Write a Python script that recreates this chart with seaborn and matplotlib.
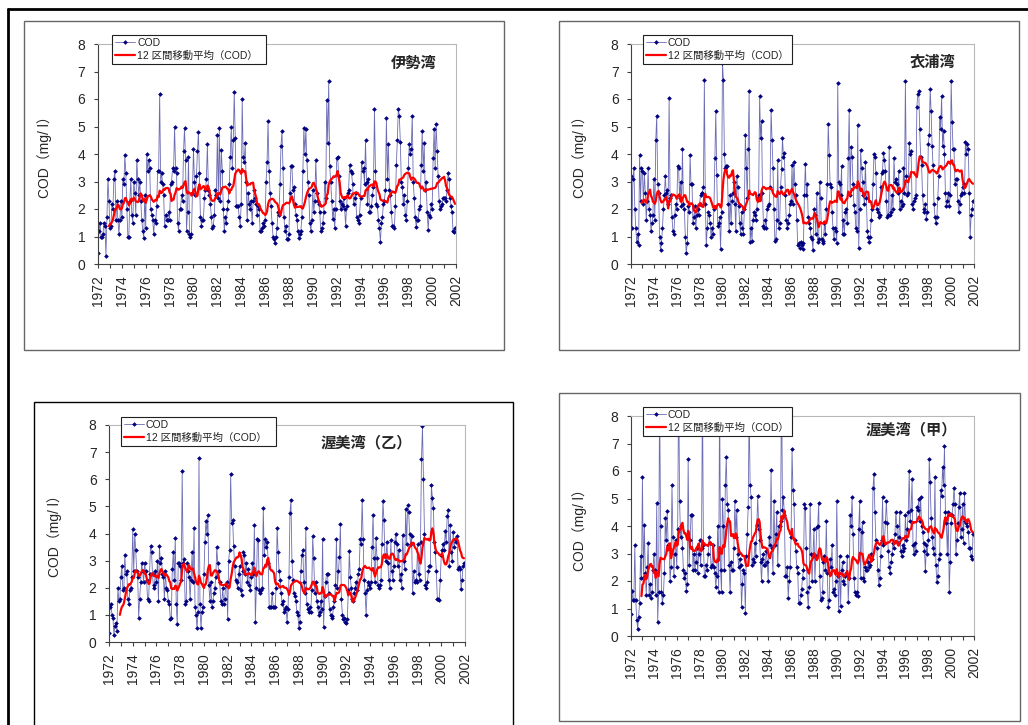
import numpy as np
import pandas as pd
import matplotlib
matplotlib.use("Agg")
import matplotlib.pyplot as plt
from matplotlib.lines import Line2D
from matplotlib.patches import Rectangle
import seaborn as sns

W, H = 1028, 725

# monthly COD (mg/l), Jan 1972 - Dec 2001, one row per year
ise = [
    0.4, 1.2, 1.5, 1.0, 1.0, 1.1, 1.5, 1.4, 0.3, 1.7, 3.1, 2.3,
    1.3, 1.4, 2.2, 2.0, 3.1, 3.4, 1.6, 2.3, 1.6, 1.1, 1.6, 2.3,
    1.7, 3.1, 2.9, 3.95, 3.3, 2.0, 1.0, 1.0, 2.3, 3.1, 1.8, 1.5,
    3.0, 2.6, 1.8, 3.8, 3.1, 2.5, 3.0, 2.3, 1.6, 1.2, 0.95, 2.5,
    1.3, 4.0, 3.4, 3.8, 3.5, 2.0, 1.8, 1.6, 1.1, 1.6, 1.5, 2.1,
    3.4, 3.4, 6.2, 3.0, 3.3, 2.9, 2.5, 1.4, 1.8, 1.6, 1.6, 1.9,
    1.6, 2.9, 3.0, 3.5, 3.4, 5.0, 3.5, 3.3, 1.5, 1.2, 2.0, 2.0,
    2.5, 2.3, 4.1, 4.95, 3.8, 1.2, 1.9, 3.9, 1.1, 1.0, 1.1, 2.6,
    4.2, 3.0, 2.5, 3.2, 4.1, 4.8, 3.3, 1.7, 1.4, 1.6, 1.6, 2.4,
    2.7, 3.1, 4.35, 2.7, 2.5, 2.2, 1.7, 1.3, 1.4, 1.8, 2.7, 2.5,
    4.7, 2.4, 4.95, 2.3, 4.15, 3.4, 2.0, 1.2, 1.7, 1.5, 2.0, 2.3,
    2.9, 3.9, 5.0, 3.5, 4.5, 6.25, 4.6, 2.1, 2.1, 2.1, 1.7, 1.4,
    2.2, 6.0, 3.9, 3.7, 4.4, 3.0, 1.6, 2.6, 2.2, 2.0, 2.3, 1.5,
    2.3, 2.7, 2.4, 2.2, 1.8, 2.1, 2.0, 1.2, 1.2, 1.3, 1.5, 1.4,
    1.6, 3.0, 3.7, 5.2, 3.4, 2.6, 2.1, 1.5, 1.0, 0.9, 0.75, 1.0,
    1.3, 1.9, 1.8, 2.9, 4.3, 4.85, 3.5, 1.7, 1.2, 1.4, 0.9, 0.9,
    1.1, 2.6, 3.55, 3.55, 2.7, 2.8, 2.2, 1.8, 1.6, 1.2, 0.95, 1.1,
    1.2, 1.7, 3.4, 4.95, 4.0, 4.9, 3.8, 3.0, 2.5, 1.5, 1.2, 1.6,
    2.7, 1.9, 2.3, 3.8, 2.6, 2.3, 2.2, 1.9, 1.2, 1.3, 1.5, 1.9,
    3.0, 2.4, 5.95, 4.4, 6.65, 3.55, 3.0, 2.3, 1.65, 2.0, 1.3, 2.0,
    3.85, 3.9, 3.2, 2.3, 2.0, 2.2, 2.1, 2.4, 2.0, 1.4, 2.1, 2.6,
    2.7, 3.6, 3.4, 3.3, 2.9, 2.2, 2.4, 2.6, 1.7, 1.6, 1.5, 1.8,
    2.4, 3.7, 3.4, 3.5, 2.9, 4.5, 3.0, 2.2, 3.1, 1.9, 1.9, 2.1,
    2.5, 2.8, 5.65, 3.4, 2.2, 2.1, 1.6, 1.3, 0.8, 1.5, 1.7, 2.2,
    2.3, 2.7, 5.3, 3.1, 4.35, 2.7, 2.5, 1.9, 1.4, 1.4, 1.3, 2.1,
    3.6, 4.5, 5.65, 5.4, 4.45, 3.0, 2.8, 2.2, 2.5, 1.8, 1.6, 2.3,
    3.5, 4.35, 4.0, 4.2, 5.4, 3.0, 2.4, 1.7, 1.35, 1.6, 1.6, 2.0,
    2.1, 3.6, 4.85, 3.4, 4.4, 2.7, 3.0, 1.9, 1.25, 1.8, 1.7, 2.2,
    2.0, 3.85, 4.9, 3.5, 5.1, 4.1, 3.2, 2.3, 2.0, 2.1, 2.2, 2.4,
    2.4, 2.4, 2.3, 2.7, 3.3, 3.1, 2.4, 2.1, 1.9, 1.2, 1.15, 1.3,
]

kinu = [
    3.2, 1.3, 3.1, 3.5, 2.0, 1.3, 0.8, 1.1, 0.7, 3.95, 2.3, 3.5,
    3.4, 2.2, 3.3, 2.6, 1.6, 2.3, 3.5, 2.0, 1.8, 1.2, 1.5, 1.8,
    3.1, 1.6, 4.5, 5.4, 2.9, 2.6, 1.0, 0.5, 0.75, 1.3, 2.0, 2.5,
    3.2, 2.6, 2.7, 2.2, 6.05, 2.4, 2.5, 1.7, 1.2, 1.1, 1.8, 2.2,
    2.0, 3.55, 3.5, 2.4, 3.0, 2.1, 4.2, 2.2, 2.0, 1.0, 0.4, 0.75,
    2.1, 1.9, 3.95, 2.9, 2.9, 1.5, 1.7, 2.1, 1.3, 1.8, 2.0, 1.8,
    2.2, 2.5, 2.6, 2.6, 2.8, 6.7, 2.2, 0.7, 1.3, 1.9, 1.8, 1.5,
    1.0, 1.3, 1.1, 2.0, 3.85, 5.55, 3.25, 1.4, 1.5, 1.7, 0.55, 1.9,
    7.3, 6.7, 4.0, 3.5, 3.55, 3.55, 2.2, 1.2, 2.5, 1.5, 2.3, 2.6,
    3.0, 2.2, 1.2, 3.2, 2.8, 2.1, 1.5, 1.1, 1.9, 1.3, 1.1, 2.0,
    4.7, 3.5, 2.4, 4.2, 6.3, 0.8, 1.3, 0.85, 1.6, 1.9, 1.8, 1.6,
    2.0, 2.4, 2.5, 6.1, 4.6, 5.2, 2.6, 1.4, 1.3, 1.6, 1.3, 2.0,
    2.1, 2.2, 2.8, 5.6, 4.5, 3.5, 2.0, 0.85, 0.9, 1.6, 3.8, 1.3,
    1.5, 2.8, 3.45, 4.6, 3.9, 4.05, 2.5, 1.6, 1.3, 1.5, 1.8, 2.2,
    2.3, 3.6, 2.2, 3.7, 2.9, 2.5, 1.6, 0.7, 0.75, 0.6, 0.8, 0.7,
    0.55, 0.75, 2.5, 3.65, 2.5, 2.9, 1.7, 1.5, 1.3, 1.0, 0.9, 0.5,
    2.0, 1.8, 1.1, 2.6, 0.8, 0.9, 3.0, 2.4, 0.9, 0.85, 0.75, 1.5,
    1.1, 2.0, 2.9, 5.1, 3.95, 2.9, 2.8, 1.9, 1.3, 0.9, 1.3, 1.2,
    0.75, 6.6, 3.0, 2.9, 2.5, 3.55, 1.1, 1.6, 1.1, 1.9, 2.0, 1.5,
    3.85, 5.6, 2.5, 4.25, 3.9, 2.9, 2.15, 1.9, 1.3, 1.2, 5.05, 0.6,
    2.0, 4.15, 3.5, 3.0, 2.5, 2.2, 3.7, 2.4, 1.2, 1.0, 0.8, 1.0,
    1.6, 2.0, 2.9, 4.0, 3.9, 3.3, 2.0, 1.9, 1.7, 1.8, 2.8, 3.3,
    3.4, 4.05, 3.8, 3.4, 2.3, 1.7, 1.8, 4.25, 1.8, 1.9, 2.5, 2.0,
    3.85, 3.0, 3.1, 2.9, 2.6, 3.4, 2.0, 2.3, 2.1, 2.2, 3.5, 2.6,
    6.65, 3.2, 2.5, 2.6, 4.4, 4.0, 4.1, 2.2, 2.0, 2.3, 2.4, 2.5,
    5.7, 6.2, 6.3, 4.9, 3.9, 3.6, 2.5, 2.0, 1.9, 2.2, 1.65, 1.9,
    4.35, 4.7, 6.35, 5.55, 4.3, 3.6, 2.2, 1.7, 1.5, 1.7, 2.4, 3.2,
    5.35, 4.9, 6.1, 4.3, 4.85, 4.0, 2.6, 2.1, 2.3, 2.6, 2.1, 2.5,
    6.65, 5.15, 4.2, 4.2, 2.9, 3.1, 3.1, 2.3, 1.9, 2.2, 2.5, 2.6,
    2.8, 2.9, 2.6, 4.45, 4.0, 4.35, 4.2, 2.6, 1.0, 1.8, 2.0, 2.3,
]

atsumi_otsu = [
    0.35, 1.3, 1.4, 1.0, 0.9, 0.25, 0.6, 0.7, 0.4, 2.0, 1.5, 1.6,
    2.4, 2.8, 1.9, 2.0, 3.2, 2.5, 2.6, 1.6, 1.4, 1.9, 2.0, 2.4,
    4.15, 2.6, 4.0, 3.4, 2.6, 2.4, 0.9, 1.6, 2.2, 2.9, 2.6, 2.2,
    2.9, 2.6, 2.3, 1.6, 1.5, 2.5, 3.55, 3.3, 2.5, 2.0, 2.1, 2.6,
    2.2, 3.0, 1.5, 3.55, 2.9, 3.1, 2.5, 2.4, 1.6, 2.6, 2.0, 1.9,
    1.5, 1.4, 0.85, 0.9, 2.7, 3.3, 2.3, 3.85, 1.4, 0.65, 2.9, 2.9,
    2.8, 2.3, 6.3, 2.9, 3.05, 1.4, 1.5, 2.9, 2.6, 2.4, 1.6, 2.3,
    3.3, 2.2, 4.2, 1.3, 1.0, 0.5, 1.1, 6.8, 1.4, 0.5, 1.1, 1.3,
    2.5, 3.7, 4.45, 4.0, 4.7, 2.1, 1.5, 2.2, 1.3, 1.5, 1.8, 2.0,
    2.4, 3.5, 2.9, 2.6, 2.2, 1.5, 1.4, 2.0, 1.4, 1.6, 2.1, 2.2,
    0.85, 3.0, 3.4, 6.2, 4.4, 4.5, 3.55, 2.8, 2.3, 2.2, 2.0, 2.5,
    2.8, 1.9, 1.75, 2.6, 3.3, 3.2, 2.5, 2.9, 2.2, 2.7, 2.1, 1.9,
    2.4, 2.9, 2.5, 4.3, 0.75, 2.0, 3.8, 3.75, 1.9, 1.8, 1.9, 2.0,
    4.95, 3.2, 3.8, 3.5, 3.7, 2.9, 1.3, 1.3, 1.3, 1.8, 1.3, 1.3,
    1.3, 2.0, 4.2, 3.3, 2.6, 2.3, 1.8, 1.4, 1.5, 1.1, 1.2, 1.3,
    0.75, 1.2, 2.4, 4.75, 5.25, 3.0, 2.3, 1.8, 1.7, 1.5, 1.1, 1.0,
    0.5, 0.75, 2.6, 3.2, 3.4, 2.2, 1.8, 4.2, 1.4, 1.2, 1.1, 1.3,
    1.1, 1.9, 3.9, 3.1, 1.8, 2.2, 1.5, 1.3, 1.0, 1.1, 1.5, 1.2,
    3.8, 0.55, 1.7, 2.2, 2.5, 2.5, 1.8, 1.2, 1.0, 0.9, 0.95, 1.3,
    1.5, 2.1, 3.8, 2.0, 2.6, 3.15, 4.35, 1.6, 1.0, 0.85, 0.9, 0.75,
    0.7, 0.85, 1.9, 3.35, 2.4, 2.0, 1.6, 1.5, 1.8, 2.0, 2.2, 1.9,
    2.5, 2.7, 3.8, 3.6, 5.25, 3.8, 2.3, 1.8, 1.0, 1.9, 2.2, 2.1,
    2.0, 2.2, 3.5, 4.7, 3.1, 2.2, 3.85, 3.1, 2.1, 2.0, 2.1, 2.3,
    3.6, 5.2, 4.5, 3.2, 3.0, 3.7, 2.9, 2.3, 2.0, 3.75, 2.6, 2.3,
    2.8, 3.7, 4.0, 3.6, 2.8, 3.4, 2.3, 2.5, 2.0, 3.95, 3.0, 2.7,
    4.9, 3.6, 5.05, 4.8, 4.0, 3.6, 3.9, 1.8, 2.6, 2.2, 2.3, 2.2,
    3.6, 2.5, 2.3, 3.7, 6.75, 7.95, 6.0, 4.0, 2.1, 2.0, 2.2, 2.6,
    2.8, 2.8, 5.8, 5.3, 4.95, 3.7, 3.3, 2.6, 1.6, 1.6, 1.55, 2.3,
    3.2, 3.4, 3.6, 3.4, 4.1, 3.7, 4.65, 4.85, 2.8, 4.3, 3.3, 3.0,
    4.05, 3.5, 3.8, 3.7, 3.9, 2.7, 2.75, 2.7, 1.95, 2.3, 2.8, 2.9,
]

atsumi_ko = [
    0.8, 1.65, 1.3, 1.3, 3.3, 1.3, 0.6, 0.25, 0.7, 1.2, 2.9, 2.1,
    5.8, 2.1, 4.05, 2.3, 1.5, 2.5, 3.4, 1.5, 1.9, 1.4, 1.6, 2.4,
    3.0, 2.4, 1.5, 4.85, 0.5, 1.6, 9.0, 4.0, 1.6, 1.2, 1.5, 2.3,
    4.3, 3.5, 4.55, 3.3, 3.2, 2.0, 2.5, 5.5, 3.6, 2.2, 3.0, 3.5,
    2.5, 3.9, 9.5, 4.9, 3.6, 4.0, 3.2, 2.4, 2.1, 2.3, 1.65, 1.9,
    6.45, 2.6, 3.5, 4.4, 4.4, 2.4, 3.0, 2.4, 2.7, 3.2, 2.3, 3.0,
    3.5, 2.6, 3.2, 9.0, 3.3, 2.2, 2.2, 2.6, 2.4, 3.0, 3.6, 3.4,
    2.5, 2.6, 3.3, 2.5, 2.3, 1.8, 2.2, 4.0, 1.6, 9.0, 2.4, 1.6,
    5.0, 4.0, 2.4, 5.5, 6.5, 4.8, 4.6, 2.6, 1.6, 2.7, 2.4, 2.4,
    3.2, 4.9, 3.6, 4.6, 3.0, 2.5, 2.8, 2.6, 1.05, 1.9, 2.4, 2.3,
    0.85, 2.9, 3.7, 4.7, 8.3, 5.5, 5.05, 2.6, 2.8, 2.7, 3.4, 2.9,
    4.05, 5.1, 3.9, 3.5, 2.7, 2.0, 2.8, 3.0, 2.6, 2.6, 3.1, 2.7,
    2.0, 3.6, 3.3, 6.05, 3.2, 2.3, 4.9, 3.3, 3.7, 4.5, 2.6, 4.0,
    4.0, 4.2, 9.5, 4.6, 5.05, 4.4, 2.2, 2.2, 2.5, 1.4, 2.0, 2.5,
    3.6, 6.8, 5.3, 4.8, 3.5, 3.1, 2.5, 2.3, 1.2, 1.2, 1.5, 1.7,
    2.1, 2.4, 4.8, 4.65, 3.2, 1.6, 1.05, 1.8, 4.8, 3.0, 2.0, 2.9,
    3.9, 2.0, 2.9, 3.95, 4.0, 4.85, 2.2, 1.3, 1.4, 1.6, 2.7, 2.9,
    2.4, 4.2, 2.3, 1.05, 1.3, 2.8, 2.5, 3.3, 1.6, 1.7, 1.5, 2.0,
    4.9, 2.2, 0.9, 2.9, 1.1, 2.4, 2.7, 2.0, 1.9, 2.2, 2.3, 2.9,
    1.25, 2.1, 4.4, 4.0, 5.05, 3.7, 2.1, 1.6, 1.5, 1.6, 1.45, 3.9,
    4.9, 2.1, 3.8, 4.15, 2.1, 2.0, 2.5, 2.4, 2.4, 2.7, 2.5, 2.6,
    3.0, 2.8, 5.4, 5.9, 4.5, 3.5, 3.2, 2.4, 1.85, 2.1, 2.9, 3.5,
    5.05, 3.3, 3.4, 4.15, 4.9, 4.1, 3.1, 2.5, 2.3, 2.7, 3.0, 3.4,
    3.2, 3.7, 4.5, 4.0, 3.4, 3.6, 4.5, 3.1, 2.9, 3.3, 3.1, 3.2,
    4.4, 3.5, 3.9, 4.5, 6.0, 4.2, 4.6, 5.7, 3.3, 3.0, 3.4, 3.1,
    4.7, 4.6, 5.0, 4.2, 5.05, 4.0, 3.8, 3.4, 3.1, 2.35, 3.3, 3.0,
    3.5, 6.45, 5.6, 4.3, 3.6, 3.2, 3.0, 5.8, 2.6, 1.95, 2.2, 2.8,
    3.0, 5.3, 5.1, 6.15, 5.5, 6.9, 4.5, 4.1, 3.0, 4.5, 1.6, 2.7,
    4.1, 4.4, 4.8, 5.4, 4.8, 3.0, 3.5, 4.1, 4.7, 5.2, 3.6, 3.9,
    4.8, 3.4, 5.2, 4.2, 4.1, 4.0, 3.8, 3.2, 3.2, 2.9, 2.8, 3.7,
]

panel_names = ["伊勢湾", "衣浦湾", "渥美湾（乙）", "渥美湾（甲）"]
year_labels = list(range(1972, 2003, 2))
y_ticks = list(range(0, 9))
label_cod = "COD"
label_ma = "12 区間移動平均（COD）"
y_title = "COD（mg/ l）"

sns.set_style("white")
plt.rcParams['font.family'] = ['Liberation Sans', 'Noto Sans CJK JP']

months = 1972 + np.arange(360) / 12.0

fig = plt.figure(figsize=(W / 100, H / 100), dpi=100)


def fx(x):
    return x / W


def fy(y):
    return 1 - y / H


# page border (top and left only)
fig.add_artist(Line2D([fx(8), fx(1028)], [fy(9), fy(9)], color='black', lw=2))
fig.add_artist(Line2D([fx(8), fx(8)], [fy(9), fy(730)], color='black', lw=2))

# chart frames: x0, y0, x1, y1, colour
frames = [(24, 21, 504, 350, '#666666'),
          (559, 21, 1019, 350, '#666666'),
          (34, 402, 513, 760, 'black'),
          (559, 393, 1020, 721, '#666666')]
for x0, y0, x1, y1, c in frames:
    fig.add_artist(Rectangle((fx(x0), fy(y1)), fx(x1) - fx(x0), fy(y0) - fy(y1),
                             fill=False, edgecolor=c, lw=1, transform=fig.transFigure))

# per panel: data, plot area, legend box, title right/centre, y-label centre
panels = [
    (ise, (98, 44, 456, 264), (112, 35, 266, 66), (437, 63), (45, 154)),
    (kinu, (631, 44, 974, 264), (643, 35, 792, 66), (955, 62), (580, 154)),
    (atsumi_otsu, (109, 425, 465, 642), (121, 417, 276, 447), (412, 442), (55, 533)),
    (atsumi_ko, (631, 416, 974, 636), (643, 407, 792, 438), (957, 429), (580, 527)),
]

for (cod, box, lbox, tpos, ypos), name in zip(panels, panel_names):
    x0, y0, x1, y1 = box
    ax = fig.add_axes([fx(x0), fy(y1), fx(x1) - fx(x0), fy(y0) - fy(y1)])
    df = pd.DataFrame({'year': months, 'cod': cod})
    df['ma'] = df['cod'].rolling(12).mean()

    sns.lineplot(data=df, x='year', y='cod', ax=ax, color='#6c6cb4', lw=0.6,
                 marker='D', markersize=2.4, markeredgewidth=0,
                 markerfacecolor='#000080', label=label_cod)
    sns.lineplot(data=df, x='year', y='ma', ax=ax, color='#ff0000', lw=1.6,
                 label=label_ma)

    ax.set_xlim(1972, 2002)
    ax.set_ylim(0, 8)
    ax.set_xticks(year_labels)
    ax.set_xticklabels([str(y) for y in year_labels], rotation=90)
    ax.set_xticks(range(1973, 2002, 2), minor=True)
    ax.set_yticks(y_ticks)
    ax.tick_params(axis='both', which='both', direction='out', length=3,
                   width=0.8, color='#404040', labelsize=10, bottom=True, left=True)
    ax.tick_params(axis='x', pad=5)
    ax.tick_params(axis='y', pad=6)
    ax.set_xlabel('')
    ax.set_ylabel('')
    for s in ['left', 'bottom']:
        ax.spines[s].set_color('#404040')
        ax.spines[s].set_linewidth(0.8)
    for s in ['top', 'right']:
        ax.spines[s].set_color('#b8b8b8')
        ax.spines[s].set_linewidth(0.8)

    lx0, ly0, lx1, ly1 = lbox
    leg = ax.legend(loc='upper left', mode='expand',
                    bbox_to_anchor=(fx(lx0), fy(ly1), fx(lx1) - fx(lx0), fy(ly0) - fy(ly1)),
                    bbox_transform=fig.transFigure, borderaxespad=0,
                    fancybox=False, framealpha=1, edgecolor='#202020',
                    fontsize=7.5, handlelength=1.9, handletextpad=0.2,
                    labelspacing=0.25, borderpad=0.3)
    leg.get_frame().set_linewidth(0.8)
    for t in leg.get_texts():
        t.set_color('#202020')

    fig.text(fx(tpos[0]), fy(tpos[1]), name, ha='right', va='center',
             fontsize=11, fontweight='bold', family=['Noto Sans CJK JP'])
    fig.text(fx(ypos[0]), fy(ypos[1]), y_title, ha='center', va='center',
             rotation=90, fontsize=10)

fig.savefig('out.png', dpi=100)
